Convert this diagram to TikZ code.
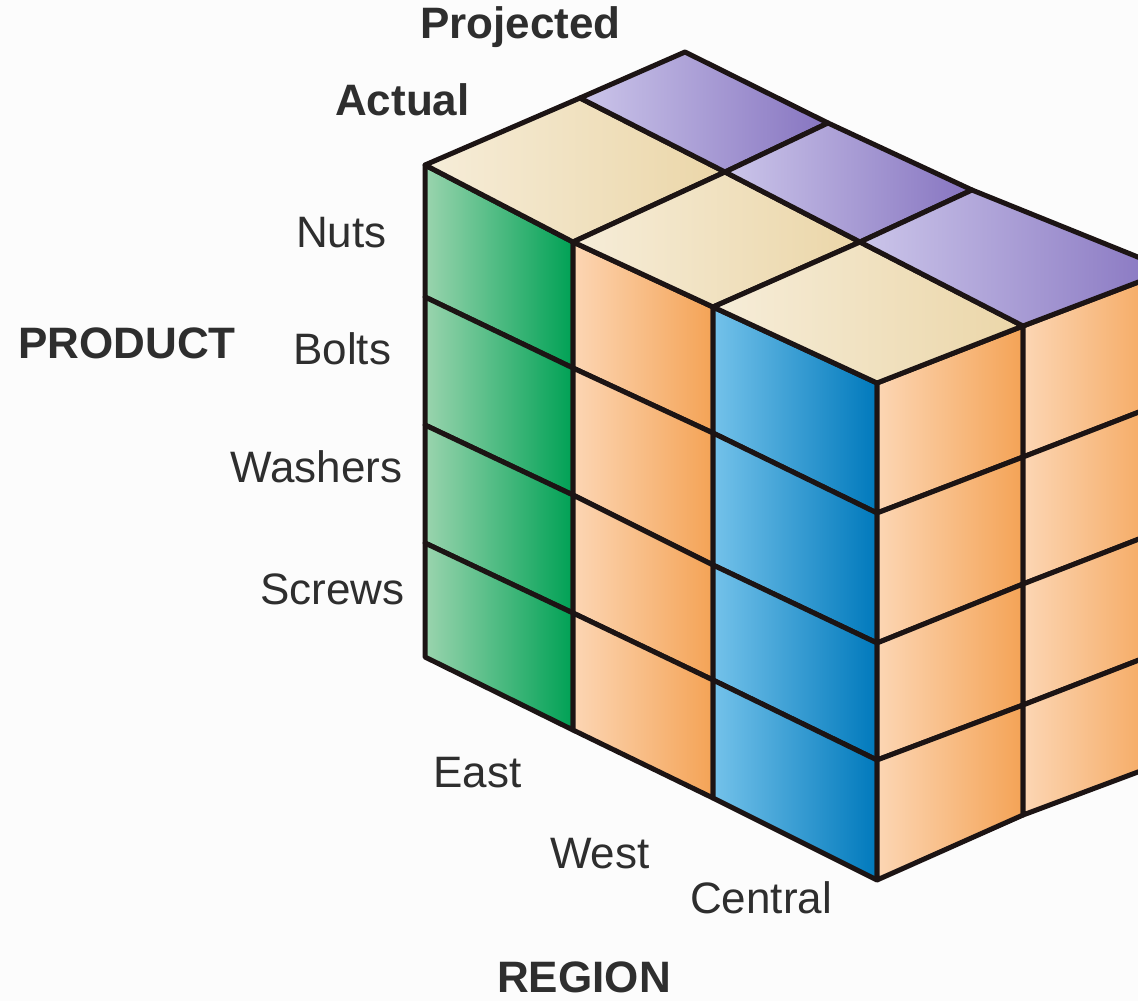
\documentclass[tikz,border=0pt]{standalone}
\usepackage{fontspec}
\setmainfont{Liberation Sans}
\begin{document}
\begin{tikzpicture}[x=1pt,y=-1pt,
  cell/.style={draw=edgecol, line width=5pt, line join=round},
  lbl/.style={anchor=base west, inner sep=0pt, text=txtcol, font=\fontsize{44}{52}\selectfont},
  blbl/.style={lbl, font=\fontsize{44}{52}\selectfont\bfseries}]
\definecolor{edgecol}{HTML}{1C1414}
\definecolor{txtcol}{HTML}{2E2E2E}
\definecolor{bgcol}{HTML}{FCFCFC}
\definecolor{gL}{HTML}{9AD4AE}\definecolor{gR}{HTML}{00A155}
\definecolor{oL}{HTML}{FCD6B4}\definecolor{oR}{HTML}{F4A356}
\definecolor{bL}{HTML}{74C2EA}\definecolor{bR}{HTML}{0079BC}
\definecolor{cL}{HTML}{F6EDD9}\definecolor{cR}{HTML}{EBD6A8}
\definecolor{pL}{HTML}{CCC6EA}\definecolor{pR}{HTML}{8674C0}
\useasboundingbox (0,0) rectangle (1138,1001);
\fill[bgcol] (0,0) rectangle (1138,1001);
\clip (0,0) rectangle (1138,1001);
% left face grid points L<i><k>
\coordinate (L00) at (425,165); \coordinate (L01) at (425,297); \coordinate (L02) at (425,425); \coordinate (L03) at (425,543); \coordinate (L04) at (425,657);
\coordinate (L10) at (573,242); \coordinate (L11) at (573,368); \coordinate (L12) at (573,495); \coordinate (L13) at (573,613); \coordinate (L14) at (573,730);
\coordinate (L20) at (713,307); \coordinate (L21) at (713,433); \coordinate (L22) at (713,565); \coordinate (L23) at (713,680); \coordinate (L24) at (713,798);
\coordinate (L30) at (877,383); \coordinate (L31) at (877,513); \coordinate (L32) at (877,643); \coordinate (L33) at (877,760); \coordinate (L34) at (877,880);
% right face grid points R<j><k>
\coordinate (R00) at (877,383); \coordinate (R01) at (877,513); \coordinate (R02) at (877,643); \coordinate (R03) at (877,760); \coordinate (R04) at (877,880);
\coordinate (R10) at (1023,326); \coordinate (R11) at (1023,457); \coordinate (R12) at (1023,584); \coordinate (R13) at (1023,705); \coordinate (R14) at (1023,815);
\coordinate (R20) at (1170,270); \coordinate (R21) at (1170,400); \coordinate (R22) at (1170,527); \coordinate (R23) at (1170,648); \coordinate (R24) at (1170,760);
% top face grid points T<i><j>
\coordinate (T00) at (425,165); \coordinate (T10) at (573,242); \coordinate (T20) at (713,307); \coordinate (T30) at (877,383);
\coordinate (T01) at (580,98);  \coordinate (T11) at (725,172); \coordinate (T21) at (860,242); \coordinate (T31) at (1023,326);
\coordinate (T02) at (685,52);  \coordinate (T12) at (828,123); \coordinate (T22) at (972,190); \coordinate (T32) at (1170,270);
% left face cells
\foreach \i/\ni/\cl/\cr in {0/1/gL/gR, 1/2/oL/oR, 2/3/bL/bR}
  \foreach \k/\nk in {0/1,1/2,2/3,3/4}
    \shadedraw[cell, left color=\cl, right color=\cr] (L\i\k) -- (L\ni\k) -- (L\ni\nk) -- (L\i\nk) -- cycle;
% right face cells
\foreach \j/\nj in {0/1,1/2}
  \foreach \k/\nk in {0/1,1/2,2/3,3/4}
    \shadedraw[cell, left color=oL, right color=oR] (R\j\k) -- (R\nj\k) -- (R\nj\nk) -- (R\j\nk) -- cycle;
% top face cells
\foreach \j/\nj/\cl/\cr in {0/1/cL/cR, 1/2/pL/pR}
  \foreach \i/\ni in {0/1,1/2,2/3}
    \shadedraw[cell, left color=\cl, right color=\cr] (T\i\j) -- (T\ni\j) -- (T\ni\nj) -- (T\i\nj) -- cycle;
% labels
\node[blbl] (projected) at (420,38) {Projected};
\node[blbl] (actual) at (335,115) {Actual};
\node[lbl] (nuts) at (296,247) {Nuts};
\node[blbl] (product) at (18,358) {PRODUCT};
\node[lbl] (bolts) at (293,364) {Bolts};
\node[lbl] (washers) at (230,482) {Washers};
\node[lbl] (screws) at (260,604) {Screws};
\node[lbl] (east) at (433,787) {East};
\node[lbl] (west) at (550,868) {West};
\node[lbl] (central) at (690,913) {Central};
\node[blbl] (region) at (497,992) {REGION};
\end{tikzpicture}
\end{document}
